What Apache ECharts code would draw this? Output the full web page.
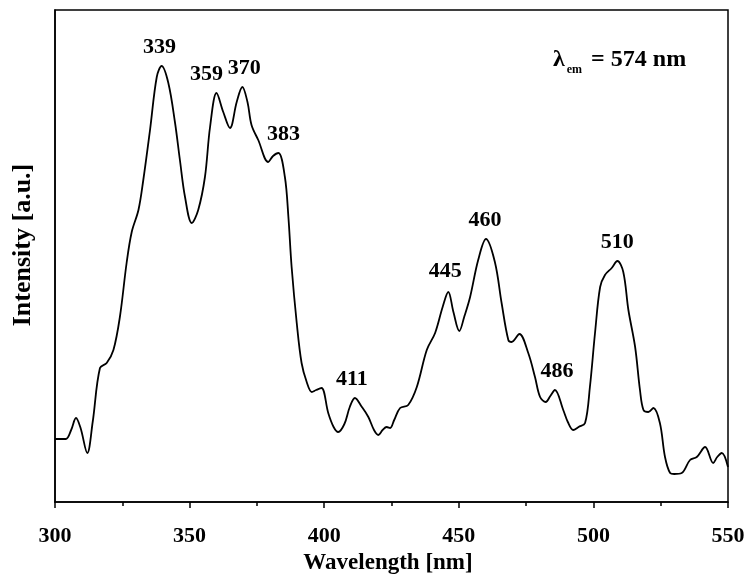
<!DOCTYPE html>
<html>
<head>
<meta charset="utf-8">
<script src="https://cdn.jsdelivr.net/npm/echarts@6/dist/echarts.min.js"></script>
<style>html,body{margin:0;padding:0;background:#fff}#c{width:750px;height:583px}</style>
</head>
<body>
<div id="c"></div>
<script>
var wavelengths = [300,304,306,307.8,309.5,312,314,316.7,319.2,321.7,324.1,326.6,328.5,331,332.8,335.3,337.8,339.6,342.1,344.6,346.4,348.3,350.8,353.2,355.7,357.6,360,362.5,365,367.5,369.6,371.5,373,375.5,379.2,381,383,385.4,386.7,387.9,389.8,391.6,393.5,395.4,397,399,401.5,403.5,405.2,407.5,409.5,411.4,414,416.4,418.5,420.1,421.7,423.2,424.5,426,428.2,431.2,434.4,438.1,441.2,444,446.1,448,450.2,452,454.2,457.2,460.1,463.4,465.9,468.4,469.6,472.5,475.8,478.3,480.2,482.3,484,485.7,488.8,490.5,492.5,494.5,496.9,498.7,500.6,502.5,504.3,506.8,508.9,511.1,513,515.5,517.3,518.6,520.4,522.3,524.7,526.6,528.5,530,532.8,535.9,538.4,541.5,544.5,546,547.7,550];
var intensity = [63,63,72,84,74,49,80,134,139,152,185,239,270,292,322,372,425,436,419,379,342,305,279,292,325,375,409,390,374,400,415,400,377,362,340,346,349,325,285,235,179,139,120,110,112,114,89,75,70,78,95,104,95,85,72,67,72,75,74,82,94,97,115,152,169,195,210,190,171,185,205,242,263,240,199,162,160,168,149,125,105,100,106,112,92,80,72,75,79,115,169,215,227,234,241,230,192,155,112,92,90,94,79,45,29,28,29,42,45,55,39,45,49,35];
var peakLabels = ['339','359','370','383','411','445','460','486','510'];
var peakX = [339.6,360,369.6,383,411.4,446.1,460.1,485.7,508.9];
var peakY = [436,409,415,349,104,210,263,112,241];
var xTicks = [300,350,400,450,500,550];

var labelOffsets = [[-2,0],[-10,0],[2,0],[5,0],[-3,0],[-3,-2],[-1,0],[2,0],[0,0]];
var serif = 'Liberation Serif';
var chart = echarts.init(document.getElementById('c'), null, {renderer:'canvas'});
var spectrum = wavelengths.map(function(w,i){return [w, intensity[i]];});
var peaks = peakX.map(function(x,i){
  return {value:[x, peakY[i]], name: peakLabels[i], label:{offset: labelOffsets[i]}};
});
chart.setOption({
  animation:false,
  backgroundColor:'#fff',
  grid:{left:55,right:22,top:10,bottom:81,show:true,borderColor:'#000',borderWidth:1.5,backgroundColor:'transparent'},
  xAxis:{
    type:'value', min:xTicks[0], max:xTicks[xTicks.length-1], interval:50,
    name:'Wavelength [nm]', nameLocation:'middle', nameGap:47,
    nameTextStyle:{fontFamily:serif,fontWeight:'bold',fontSize:23,color:'#000',padding:[0,7,0,0]},
    axisLine:{show:true,lineStyle:{color:'#000',width:1.5}},
    axisTick:{show:true,inside:false,length:6,lineStyle:{color:'#000',width:1.5}},
    minorTick:{show:true,splitNumber:2,length:4,lineStyle:{color:'#000',width:1.5}},
    axisLabel:{fontFamily:serif,fontWeight:'bold',fontSize:22,color:'#000',margin:23},
    splitLine:{show:false}
  },
  yAxis:{
    type:'value', min:0, max:492,
    name:'Intensity [a.u.]', nameLocation:'middle', nameGap:19, nameRotate:90,
    nameTextStyle:{fontFamily:serif,fontWeight:'bold',fontSize:26,color:'#000',padding:[0,0,0,22]},
    axisLine:{show:true,lineStyle:{color:'#000',width:1.5}},
    axisTick:{show:false}, axisLabel:{show:false}, splitLine:{show:false}
  },
  series:[
    {type:'line', data:spectrum, smooth:0.35, showSymbol:false, symbol:'none',
     lineStyle:{color:'#000',width:1.8}},
    {type:'scatter', data:peaks, symbolSize:0, itemStyle:{opacity:1,color:'#000'},
     label:{show:true, position:'top', distance:8, opacity:1, formatter:function(p){return p.name;},
       fontFamily:serif,fontWeight:'bold',fontSize:22,color:'#000'}}
  ],
  graphic:[{
    type:'text', left:553, top:44,
    style:{
      text:'{l|λ}{s|em}{r| = 574 nm}',
      rich:{
        l:{fontFamily:serif,fontWeight:'bold',fontSize:24,color:'#000',lineHeight:32},
        s:{fontFamily:serif,fontWeight:'bold',fontSize:12,color:'#000',lineHeight:32,padding:[20,3,0,2]},
        r:{fontFamily:serif,fontWeight:'bold',fontSize:24,color:'#000',lineHeight:32}
      }
    }
  }]
});
</script>
</body>
</html>
